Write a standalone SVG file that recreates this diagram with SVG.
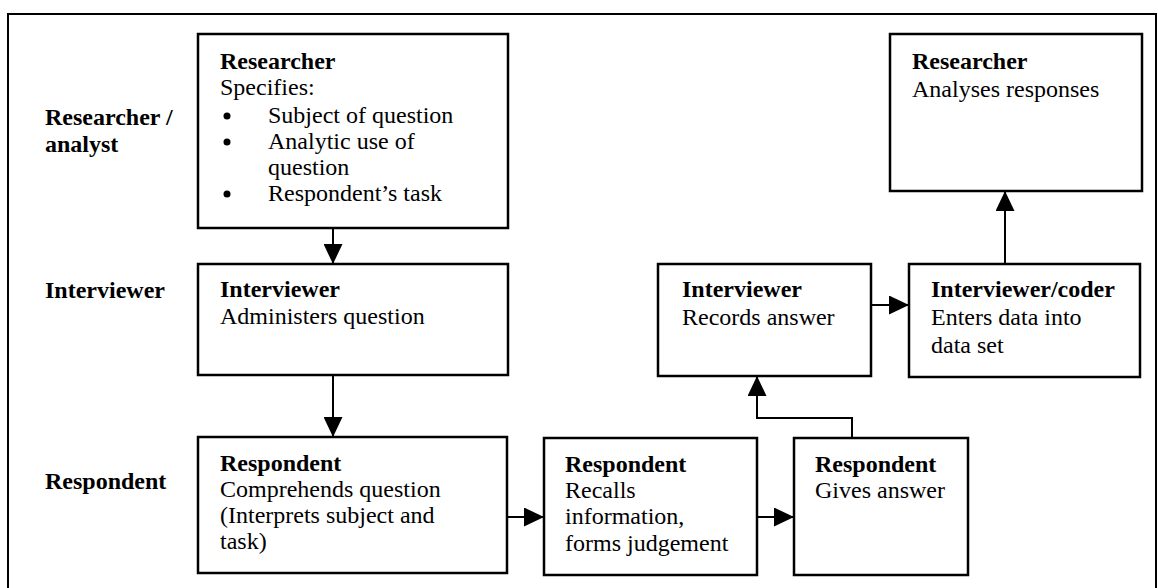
<svg xmlns="http://www.w3.org/2000/svg" width="1158" height="588" viewBox="0 0 1158 588">
  <style>
    .box { fill: #fff; stroke: #000; stroke-width: 2.5; }
    .frame { fill: none; stroke: #000; stroke-width: 2; }
    .link { fill: none; stroke: #000; stroke-width: 2; }
    text { font-family: "Liberation Serif", "Times New Roman", serif; font-size: 24px; fill: #000; }
    .b { font-weight: bold; }
  </style>
  <defs>
    <marker id="head" viewBox="0 0 20 19" refX="20" refY="9.5" markerWidth="20" markerHeight="19" markerUnits="userSpaceOnUse" orient="auto">
      <path d="M0,0 L20,9.5 L0,19 Z" fill="#000"/>
    </marker>
  </defs>
  <rect width="1158" height="588" fill="#fff"/>

  <!-- outer frame, open at the bottom -->
  <path class="frame" d="M8,588 V14 H1156 V588"/>

  <!-- row labels -->
  <g id="row-labels">
    <text class="b" x="45" y="125">Researcher /</text>
    <text class="b" x="45" y="152">analyst</text>
    <text class="b" x="45" y="298">Interviewer</text>
    <text class="b" x="45" y="489">Respondent</text>
  </g>

  <!-- connectors -->
  <g id="connectors">
    <path class="link" d="M333,228 V264" marker-end="url(#head)"/>
    <path class="link" d="M333,375 V437" marker-end="url(#head)"/>
    <path class="link" d="M507,517 H544" marker-end="url(#head)"/>
    <path class="link" d="M757,517 H794" marker-end="url(#head)"/>
    <path class="link" d="M852,438 V418 H757 V376" marker-end="url(#head)"/>
    <path class="link" d="M871,305 H909" marker-end="url(#head)"/>
    <path class="link" d="M1005,264 V191" marker-end="url(#head)"/>
  </g>

  <g id="researcher-specifies">
    <rect class="box" x="198" y="34" width="310" height="194"/>
    <text class="b" x="220" y="69">Researcher</text>
    <text x="220" y="95">Specifies:</text>
    <circle cx="227" cy="116" r="3.5"/>
    <text x="268" y="123">Subject of question</text>
    <circle cx="227" cy="142" r="3.5"/>
    <text x="268" y="149">Analytic use of</text>
    <text x="268" y="175">question</text>
    <circle cx="227" cy="194" r="3.5"/>
    <text x="268" y="201">Respondent’s task</text>
  </g>

  <g id="interviewer-administers">
    <rect class="box" x="198" y="264" width="310" height="111"/>
    <text class="b" x="220" y="297">Interviewer</text>
    <text x="220" y="324">Administers question</text>
  </g>

  <g id="respondent-comprehends">
    <rect class="box" x="198" y="437" width="309" height="136"/>
    <text class="b" x="220" y="471">Respondent</text>
    <text x="220" y="497">Comprehends question</text>
    <text x="220" y="523">(Interprets subject and</text>
    <text x="220" y="549">task)</text>
  </g>

  <g id="respondent-recalls">
    <rect class="box" x="544" y="438" width="213" height="137"/>
    <text class="b" x="565" y="472">Respondent</text>
    <text x="565" y="498">Recalls</text>
    <text x="565" y="524">information,</text>
    <text x="565" y="551">forms judgement</text>
  </g>

  <g id="respondent-answers">
    <rect class="box" x="794" y="438" width="174" height="137"/>
    <text class="b" x="815" y="472">Respondent</text>
    <text x="815" y="498">Gives answer</text>
  </g>

  <g id="interviewer-records">
    <rect class="box" x="658" y="264" width="213" height="112"/>
    <text class="b" x="682" y="297">Interviewer</text>
    <text x="682" y="325">Records answer</text>
  </g>

  <g id="interviewer-coder">
    <rect class="box" x="909" y="264" width="231" height="113"/>
    <text class="b" x="931" y="297">Interviewer/coder</text>
    <text x="931" y="325">Enters data into</text>
    <text x="931" y="353">data set</text>
  </g>

  <g id="researcher-analyses">
    <rect class="box" x="890" y="34" width="252" height="157"/>
    <text class="b" x="912" y="69">Researcher</text>
    <text x="912" y="97">Analyses responses</text>
  </g>
</svg>
